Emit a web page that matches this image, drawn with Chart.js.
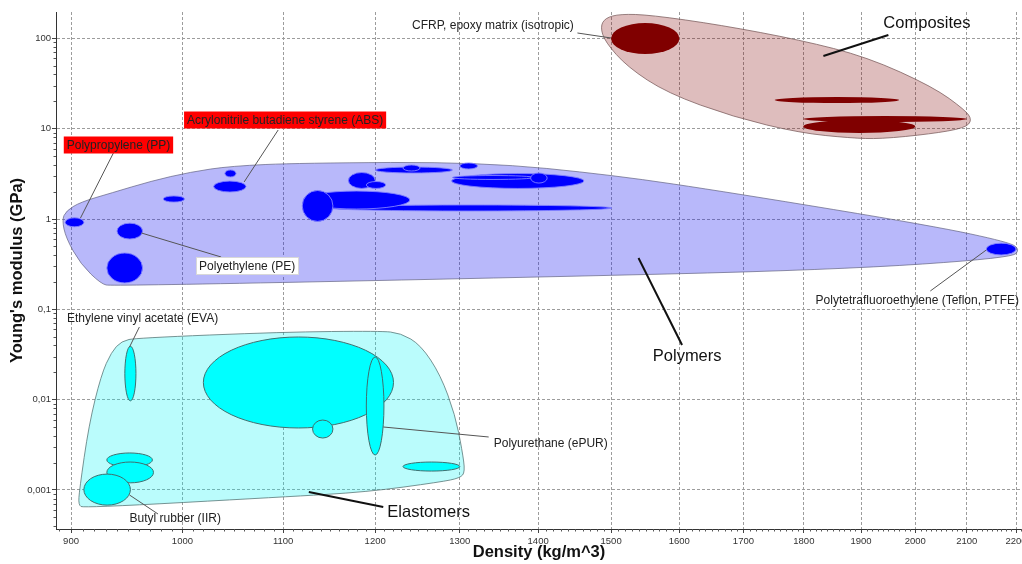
<!DOCTYPE html>
<html>
<head>
<meta charset="utf-8">
<script src="https://cdn.jsdelivr.net/npm/chart.js@4/dist/chart.umd.min.js"></script>
<style>
  html, body { margin: 0; padding: 0; background: #fff; overflow: hidden; }
  canvas { display: block; }
</style>
</head>
<body>
<canvas id="chart" width="1022" height="564"></canvas>
<script>
// ---- Axis ranges and ticks (both axes logarithmic) ----
const densityRange = [887.3, 2212.5];          // kg/m^3
const modulusRange = [0.00037, 195.7];         // GPa
const densityTicks = [900, 1000, 1100, 1200, 1300, 1400, 1500, 1600, 1700, 1800, 1900, 2000, 2100, 2200];
const modulusTicks = [0.001, 0.01, 0.1, 1, 10, 100];
const modulusTickLabels = ['0,001', '0,01', '0,1', '1', '10', '100'];

// ---- Material property ranges: [min, max] density (kg/m^3) and Young's modulus (GPa) ----
const polymerDensity = [
  [1148, 1501], [1121, 1240], [1120, 1153], [1170, 1200], [1190, 1212], [1200, 1291],
  [1232, 1252], [1300, 1322], [1290, 1462], [1291, 1394], [1390, 1412], [895, 911],
  [940, 963], [931, 963], [982, 1002], [1030, 1062], [1041, 1052], [2139, 2200]
];
const polymerModulus = [
  [1.226, 1.43], [1.29, 2.04], [0.94, 2.07], [2.18, 3.27], [2.18, 2.60], [3.23, 3.76],
  [3.40, 3.96], [3.58, 4.17], [2.18, 3.19], [2.74, 3.03], [2.50, 3.23], [0.82, 1.03],
  [0.60, 0.90], [0.196, 0.42], [1.54, 1.80], [1.99, 2.63], [2.92, 3.49], [0.40, 0.54]
];
const compositeDensity = [[1500, 1600], [1751, 1970], [1799, 2000], [1799, 2100]];
const compositeModulus = [[67, 148], [19.2, 22.4], [8.96, 12.47], [11.85, 13.8]];
const elastomerDensity = [
  [1020, 1221], [947, 957], [1131, 1153], [1190, 1210], [1232, 1300], [931, 972], [931, 973], [911, 952]
];
const elastomerModulus = [
  [0.00486, 0.0494], [0.0097, 0.039], [0.00376, 0.00595], [0.00244, 0.0297],
  [0.00162, 0.00204], [0.0018, 0.00257], [0.0012, 0.00204], [0.00068, 0.0015]
];

// ---- Family envelopes: outline vertices [density, modulus] ----
const polymerEnvelope = [
  [892.4, 0.975], [895.7, 1.226], [908.1, 1.54], [935.0, 1.94], [970.9, 2.63], [1007.5, 3.31],
  [1047.2, 3.86], [1118.3, 4.17], [1325.8, 4.28], [1502.8, 3.07], [1683.8, 1.94], [2034.5, 0.837],
  [2183.7, 0.556], [2208.3, 0.4655], [2192, 0.370], [1851, 0.2725], [1351.3, 0.2222],
  [935.0, 0.1813], [926, 0.1907], [908.1, 0.3176], [895.7, 0.616]
];
const compositeEnvelope = [
  [1484.8, 133.5], [1491.6, 168], [1513, 186], [1557, 181.3], [1663.4, 140.5], [1793.7, 95.9],
  [1911, 62.1], [2034.5, 28.9], [2096.5, 16.1], [2110.6, 12.47], [2096.5, 10.17], [2028.7, 8.73],
  [1935, 7.69], [1880.8, 7.88], [1793.7, 8.96], [1683.8, 13.46], [1581.8, 24.8], [1523.3, 48.2],
  [1491.6, 91.1]
];
const elastomerEnvelope = [
  [944, 0.04461], [957.5, 0.04816], [1099.8, 0.0561], [1205.7, 0.05755], [1229.3, 0.0547],
  [1252.9, 0.04027], [1276.5, 0.01875], [1294.3, 0.006766], [1302.8, 0.002772], [1306.6, 0.001582],
  [1300.3, 0.001357], [1276.5, 0.001226], [1191.1, 0.00095], [1099.8, 0.000837], [910.8, 0.000632],
  [906.3, 0.000682], [907.2, 0.001], [915.3, 0.005243], [926, 0.01875], [935, 0.0337]
];

// ---- Callout labels (anchors and leader ends in data coordinates) ----
const callouts = [
  { text: 'CFRP, epoxy matrix (isotropic)', at: [1448, 140.5], align: 'right', kind: 'note', from: [1453, 114.6], to: [1500, 100.9] },
  { text: 'Composites', at: [1940.6, 147.8], align: 'left', kind: 'family', from: [1949.8, 108.9], to: [1833.6, 63.8] },
  { text: 'Acrylonitrile butadiene styrene (ABS)', at: [1102, 12.47], align: 'center', kind: 'red', from: [1094.8, 9.67], to: [1060.1, 2.57] },
  { text: 'Polypropylene (PP)', at: [941.3, 6.595], align: 'center', kind: 'red', from: [936.8, 5.38], to: [908.1, 1.026] },
  { text: 'Polyethylene (PE)', at: [1063.1, 0.3018], align: 'center', kind: 'white', from: [1037.3, 0.3796], to: [962, 0.6998] },
  { text: 'Polytetrafluoroethylene (Teflon, PTFE)', at: [2206.3, 0.1269], align: 'right', kind: 'note', from: [2028.7, 0.1596], to: [2139, 0.4539] },
  { text: 'Polymers', at: [1611.9, 0.03044], align: 'center', kind: 'family', from: [1604.1, 0.04027], to: [1539.4, 0.370] },
  { text: 'Ethylene vinyl acetate (EVA)', at: [896.6, 0.0802], align: 'left', kind: 'note', from: [960.1, 0.0637], to: [951.2, 0.03828] },
  { text: 'Polyurethane (ePUR)', at: [1342.4, 0.003313], align: 'left', kind: 'note', from: [1336, 0.003861], to: [1209.2, 0.004982] },
  { text: 'Elastomers', at: [1213.9, 0.000571], align: 'left', kind: 'family', from: [1209.2, 0.000648], to: [1127, 0.00095] },
  { text: 'Butyl rubber (IIR)', at: [951.2, 0.00049], align: 'left', kind: 'note', from: [977.2, 0.000542], to: [951.2, 0.00088] }
];

const FONT = '"Liberation Sans", Arial, Helvetica, sans-serif';

function toPx(chart, d, e) {
  return [chart.scales.x.getPixelForValue(d), chart.scales.y.getPixelForValue(e)];
}

// Closed smooth outline: quadratic curves through edge midpoints
function drawEnvelope(ctx, chart, pts, fill, stroke) {
  const p = pts.map(([d, e]) => toPx(chart, d, e));
  const n = p.length;
  const mid = (a, b) => [(a[0] + b[0]) / 2, (a[1] + b[1]) / 2];
  const start = mid(p[n - 1], p[0]);
  ctx.beginPath();
  ctx.moveTo(start[0], start[1]);
  for (let i = 0; i < n; i++) {
    const m = mid(p[i], p[(i + 1) % n]);
    ctx.quadraticCurveTo(p[i][0], p[i][1], m[0], m[1]);
  }
  ctx.closePath();
  ctx.fillStyle = fill;
  ctx.fill();
  ctx.strokeStyle = stroke;
  ctx.lineWidth = 1;
  ctx.stroke();
}

// Property bubbles: ellipse spanning the density and modulus ranges
function drawBubbles(ctx, chart, dens, mod, fill, stroke) {
  for (let i = 0; i < dens.length; i++) {
    const [x1, y1] = toPx(chart, dens[i][0], mod[i][1]);
    const [x2, y2] = toPx(chart, dens[i][1], mod[i][0]);
    ctx.beginPath();
    ctx.ellipse((x1 + x2) / 2, (y1 + y2) / 2, Math.abs(x2 - x1) / 2, Math.abs(y2 - y1) / 2, 0, 0, Math.PI * 2);
    ctx.fillStyle = fill;
    ctx.fill();
    if (stroke) {
      ctx.strokeStyle = stroke;
      ctx.lineWidth = 1;
      ctx.stroke();
    }
  }
}

function drawCallout(ctx, chart, c) {
  const [ax, ay] = toPx(chart, c.at[0], c.at[1]);
  const [fx, fy] = toPx(chart, c.from[0], c.from[1]);
  const [tx, ty] = toPx(chart, c.to[0], c.to[1]);
  const family = c.kind === 'family';
  ctx.beginPath();
  ctx.moveTo(fx, fy);
  ctx.lineTo(tx, ty);
  ctx.strokeStyle = family ? '#111' : '#555';
  ctx.lineWidth = family ? 2 : 1;
  ctx.stroke();

  ctx.font = (family ? '16.5px ' : '12px ') + FONT;
  ctx.textBaseline = 'middle';
  ctx.textAlign = c.align;
  if (c.kind === 'red' || c.kind === 'white') {
    const w = ctx.measureText(c.text).width + 6;
    ctx.fillStyle = c.kind === 'red' ? '#ff0000' : '#ffffff';
    ctx.fillRect(ax - w / 2, ay - 8.5, w, 17);
    if (c.kind === 'white') {
      ctx.strokeStyle = '#d8d8d8';
      ctx.lineWidth = 1;
      ctx.strokeRect(Math.round(ax - w / 2) + 0.5, Math.round(ay - 8.5) + 0.5, Math.round(w), 17);
    }
  }
  ctx.fillStyle = family ? '#111' : '#222';
  ctx.fillText(c.text, ax, ay + 0.5);
}

// Small unlabelled tick marks between the labelled ones
function drawMinorTicks(ctx, chart) {
  const xs = chart.scales.x, ys = chart.scales.y;
  const area = chart.chartArea;
  ctx.strokeStyle = '#555';
  ctx.lineWidth = 1;
  ctx.beginPath();
  for (let d = 890; d <= densityRange[1]; d += 10) {
    if (d % 100 === 0) continue;
    const x = Math.round(xs.getPixelForValue(d)) + 0.5;
    ctx.moveTo(x, area.bottom);
    ctx.lineTo(x, area.bottom + 2.5);
  }
  for (let k = -4; k <= 2; k++) {
    for (let m = 2; m <= 9; m++) {
      const v = m * Math.pow(10, k);
      if (v < modulusRange[0] || v > modulusRange[1]) continue;
      const y = Math.round(ys.getPixelForValue(v)) + 0.5;
      ctx.moveTo(area.left - 2.5, y);
      ctx.lineTo(area.left, y);
    }
  }
  ctx.stroke();
}

const materialChartPlugin = {
  id: 'materialChart',
  beforeDatasetsDraw(chart) {
    const ctx = chart.ctx;
    const area = chart.chartArea;
    ctx.save();
    ctx.beginPath();
    ctx.rect(area.left, area.top, area.right - area.left, area.bottom - area.top);
    ctx.clip();
    drawEnvelope(ctx, chart, compositeEnvelope, 'rgba(128,0,0,0.26)', 'rgba(120,90,90,0.75)');
    drawEnvelope(ctx, chart, polymerEnvelope, 'rgba(20,20,240,0.30)', 'rgba(100,100,130,0.7)');
    drawEnvelope(ctx, chart, elastomerEnvelope, 'rgba(0,245,245,0.27)', 'rgba(90,120,120,0.8)');
    drawBubbles(ctx, chart, compositeDensity, compositeModulus, '#800000', null);
    drawBubbles(ctx, chart, polymerDensity, polymerModulus, '#0000ff', 'rgba(130,130,255,0.9)');
    drawBubbles(ctx, chart, elastomerDensity, elastomerModulus, '#00ffff', '#3f6f6f');
    ctx.restore();

    ctx.save();
    callouts.forEach(c => drawCallout(ctx, chart, c));
    drawMinorTicks(ctx, chart);
    ctx.restore();
  }
};

const tickFont = { family: FONT, size: 9.5 };
const titleFont = { family: FONT, size: 16.5, weight: 'bold' };

new Chart(document.getElementById('chart'), {
  type: 'scatter',
  data: { datasets: [] },
  options: {
    responsive: false,
    animation: false,
    layout: { padding: { top: 12, left: 0, right: 0, bottom: 0 } },
    plugins: { legend: { display: false }, tooltip: { enabled: false } },
    scales: {
      x: {
        type: 'logarithmic',
        position: 'bottom',
        min: densityRange[0],
        max: densityRange[1],
        bounds: 'data',
        afterBuildTicks(scale) { scale.ticks = densityTicks.map(v => ({ value: v })); },
        afterFit(scale) { scale.height = 35; scale.paddingLeft = 0; scale.paddingRight = 0; },
        ticks: {
          autoSkip: false, maxRotation: 0, minRotation: 0, padding: 3,
          color: '#333', font: tickFont,
          callback: (v) => String(v)
        },
        grid: { color: '#9c9c9c', lineWidth: 1, tickLength: 4, tickColor: '#444', drawTicks: true },
        border: { display: true, color: '#333', width: 1, dash: [3, 2] },
        title: { display: true, text: 'Density (kg/m^3)', color: '#111', font: titleFont, padding: { top: 0, bottom: 2 } }
      },
      y: {
        type: 'logarithmic',
        position: 'left',
        min: modulusRange[0],
        max: modulusRange[1],
        bounds: 'data',
        afterBuildTicks(scale) { scale.ticks = modulusTicks.map(v => ({ value: v })); },
        afterFit(scale) { scale.width = 56; scale.paddingTop = 0; scale.paddingBottom = 0; },
        ticks: {
          autoSkip: false, padding: 1, color: '#333', font: tickFont,
          callback: (v) => {
            const i = modulusTicks.findIndex(t => Math.abs(t - v) / t < 1e-6);
            return i >= 0 ? modulusTickLabels[i] : '';
          }
        },
        grid: { color: '#9c9c9c', lineWidth: 1, tickLength: 4, tickColor: '#444', drawTicks: true },
        border: { display: true, color: '#333', width: 1, dash: [3, 2] },
        title: { display: true, text: "Young's modulus (GPa)", color: '#111', font: titleFont, padding: { top: 8, bottom: 0 } }
      }
    }
  },
  plugins: [materialChartPlugin]
});
</script>
</body>
</html>
